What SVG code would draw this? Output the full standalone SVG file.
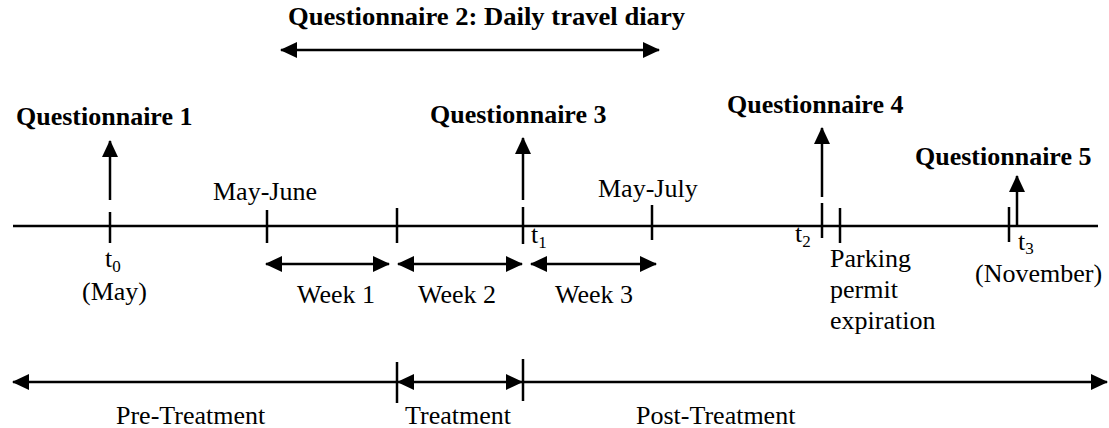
<svg xmlns="http://www.w3.org/2000/svg" width="1109" height="428" viewBox="0 0 1109 428">
<style>
.b{font-family:"Liberation Serif","Times New Roman",serif;font-weight:bold;font-size:26px;fill:#000}
.r{font-family:"Liberation Serif","Times New Roman",serif;font-size:26px;fill:#000}
.s{font-size:17px}
.ln{stroke:#000;stroke-width:2.5;fill:none}
.tk{stroke:#000;stroke-width:2.5;fill:none}
</style>
<defs>
<marker id="ah" markerUnits="userSpaceOnUse" markerWidth="17" markerHeight="16" refX="16" refY="8" orient="auto-start-reverse" viewBox="0 0 17 16">
<path d="M0,0 L17,8 L0,16 z" fill="#000"/>
</marker>
</defs>
<rect width="1109" height="428" fill="#fff"/>
<g id="connectors">
<line class="ln" x1="13" y1="226" x2="1098" y2="226"/>
<line class="tk" x1="110" y1="212" x2="110" y2="243"/>
<line class="tk" x1="267" y1="210" x2="267" y2="243"/>
<line class="tk" x1="397" y1="208" x2="397" y2="243"/>
<line class="tk" x1="523" y1="207" x2="523" y2="244"/>
<line class="tk" x1="652" y1="205" x2="652" y2="240"/>
<line class="tk" x1="822" y1="203" x2="822" y2="238"/>
<line class="tk" x1="840" y1="208" x2="840" y2="243"/>
<line class="tk" x1="1009" y1="207" x2="1009" y2="242"/>
<line class="ln" x1="110" y1="200" x2="110" y2="141" marker-end="url(#ah)"/>
<line class="ln" x1="523" y1="200" x2="523" y2="138" marker-end="url(#ah)"/>
<line class="ln" x1="822" y1="197" x2="822" y2="128" marker-end="url(#ah)"/>
<line class="ln" x1="1017" y1="226" x2="1017" y2="176" marker-end="url(#ah)"/>
<line class="ln" x1="281" y1="50" x2="659" y2="50" marker-start="url(#ah)" marker-end="url(#ah)"/>
<line class="ln" x1="266" y1="264" x2="389" y2="264" stroke-width="3" marker-start="url(#ah)" marker-end="url(#ah)"/>
<line class="ln" x1="398" y1="264" x2="522" y2="264" stroke-width="3" marker-start="url(#ah)" marker-end="url(#ah)"/>
<line class="ln" x1="531" y1="264" x2="656" y2="264" stroke-width="3" marker-start="url(#ah)" marker-end="url(#ah)"/>
<line class="ln" x1="13" y1="382" x2="396" y2="382" marker-start="url(#ah)"/>
<line class="ln" x1="398" y1="382" x2="522" y2="382" marker-start="url(#ah)" marker-end="url(#ah)"/>
<line class="ln" x1="524" y1="382" x2="1107" y2="382" marker-end="url(#ah)"/>
<line class="tk" x1="397" y1="362" x2="397" y2="403"/>
<line class="tk" x1="523" y1="359" x2="523" y2="401"/>
</g>
<g id="q1"><text class="b" x="16" y="125">Questionnaire 1</text></g>
<g id="q2"><text class="b" x="288" y="25" textLength="397" lengthAdjust="spacingAndGlyphs">Questionnaire 2: Daily travel diary</text></g>
<g id="q3"><text class="b" x="430" y="123">Questionnaire 3</text></g>
<g id="q4"><text class="b" x="727" y="113">Questionnaire 4</text></g>
<g id="q5"><text class="b" x="915" y="165">Questionnaire 5</text></g>
<g id="t0"><text class="r" x="105" y="267">t<tspan class="s" dy="5">0</tspan></text><text class="r" x="82" y="300">(May)</text></g>
<g id="mayjune"><text class="r" x="213" y="200">May-June</text></g>
<g id="mayjuly"><text class="r" x="598" y="197">May-July</text></g>
<g id="t1"><text class="r" x="531" y="243">t<tspan class="s" dy="5">1</tspan></text></g>
<g id="t2"><text class="r" x="795" y="242">t<tspan class="s" dy="5">2</tspan></text></g>
<g id="t3"><text class="r" x="1018" y="250">t<tspan class="s" dy="4">3</tspan></text><text class="r" x="975" y="282">(November)</text></g>
<g id="parking"><text class="r" x="830" y="267">Parking</text><text class="r" x="830" y="298">permit</text><text class="r" x="830" y="329">expiration</text></g>
<g id="week1"><text class="r" x="297" y="303">Week 1</text></g>
<g id="week2"><text class="r" x="418" y="303">Week 2</text></g>
<g id="week3"><text class="r" x="555" y="303">Week 3</text></g>
<g id="pre"><text class="r" x="116" y="424">Pre-Treatment</text></g>
<g id="treat"><text class="r" x="405" y="424">Treatment</text></g>
<g id="post"><text class="r" x="636" y="424">Post-Treatment</text></g>
</svg>
